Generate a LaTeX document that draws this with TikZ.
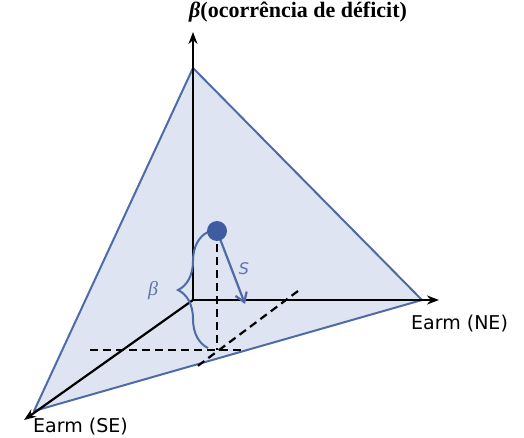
\documentclass[tikz,border=0pt]{standalone}
\usepackage{fontspec}
\setmainfont{Liberation Serif}
\newfontfamily\axisfont{DejaVu Sans}
\usetikzlibrary{arrows.meta,decorations.pathreplacing}
\definecolor{edgeblue}{RGB}{79,107,166}
\definecolor{faceblue}{RGB}{222,228,241}
\definecolor{dotblue}{RGB}{62,92,160}
\definecolor{textblue}{RGB}{96,118,170}

\begin{document}
\begin{tikzpicture}[
x=1pt, y=-1pt,
axis/.style={-{Stealth[length=12pt,width=9pt]}, line width=2.2pt, black},
face/.style={draw=edgeblue, line width=2pt, fill=faceblue, line join=round},
proj/.style={dashed, dash pattern=on 8pt off 5pt, line width=2.2pt, black},
vec/.style={-{Straight Barb[length=9pt,width=12pt]}, line width=2.2pt, edgeblue},
axislabel/.style={font=\axisfont\fontsize{19}{22}\selectfont, inner sep=0pt}
]
\useasboundingbox (0,0) rectangle (524,438);
\coordinate (O) at (193,300);
\coordinate (top) at (193,68);
\coordinate (right) at (422,300);
\coordinate (left) at (34,411);
\coordinate (zend) at (193,32);
\coordinate (neend) at (439,300);
\coordinate (seend) at (24,420);
\coordinate (P) at (217,350);

% plane of the three regions
\filldraw[face] (top) -- (right) -- (left) -- cycle;

% axes
\draw[axis] (O) -- (zend);
\draw[axis] (O) -- (neend);
\draw[axis] (O) -- (seend);

% projections of the point
\coordinate (pt) at (217,231);
\draw[proj] (pt) -- (P);
\coordinate (hl) at (90,350);
\coordinate (hr) at (245,350);
\draw[proj] (hl) -- (hr);
\coordinate (dl) at (195,368);
\coordinate (dr) at (298,291);
\draw[proj] (dr) -- (dl);

% beta brace
\draw[edgeblue, line width=2pt, decorate, decoration={brace, amplitude=30pt, aspect=0.5}]
  (208,348) -- (208,232);

% vector S
\coordinate (send) at (245,304);
\draw[vec] (pt) -- (send);

\fill[dotblue] (pt) circle (10);

% labels
\node[anchor=base west, inner sep=0pt, font=\bfseries\fontsize{22}{26}\selectfont] (title) at (189,18) {\itshape β\upshape(ocorrência de déficit)};
\node[axislabel, anchor=base west] (nelabel) at (411,329) {Earm (NE)};
\node[axislabel, anchor=base west] (selabel) at (33,432) {Earm (SE)};
\node[textblue, inner sep=0pt, font=\itshape\fontsize{20}{24}\selectfont] (betalabel) at (153,291) {β};
\node[textblue, inner sep=0pt, font=\axisfont\itshape\fontsize{16}{20}\selectfont] (slabel) at (244,269) {S};
\end{tikzpicture}
\end{document}
